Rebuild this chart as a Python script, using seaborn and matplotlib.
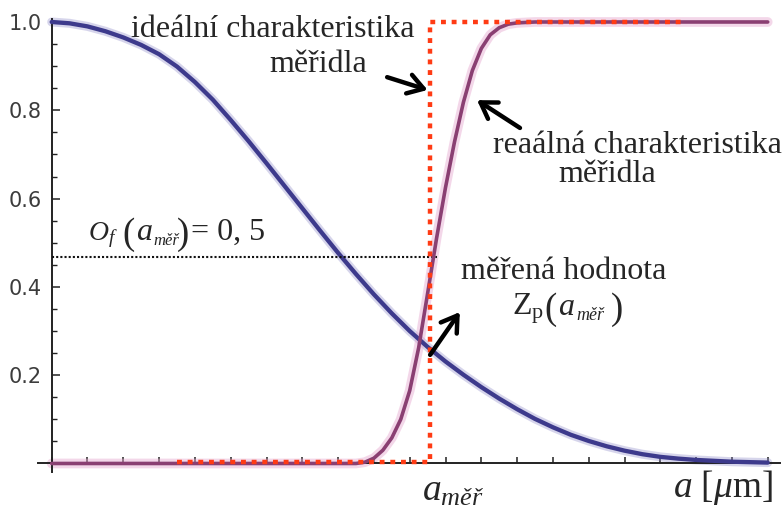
import numpy as np
import pandas as pd
import matplotlib
matplotlib.use("Agg")
import matplotlib.pyplot as plt
import seaborn as sns

# ---------------- data ----------------
# blue curve O_f(a)
a_of = [0, 0.5, 1, 1.5, 2, 2.5, 3, 3.5, 4, 4.5, 5, 5.5, 6, 6.5, 7, 7.5, 8, 8.5,
        9, 9.5, 10, 10.5, 11, 11.5, 12, 12.5, 13, 13.5, 14, 14.5, 15, 15.5,
        16, 16.5, 17, 17.5, 18, 18.5, 19, 19.5, 20]
of_vals = [1.000, 0.997, 0.990, 0.979, 0.965, 0.948, 0.927, 0.899, 0.864, 0.824,
           0.778, 0.730, 0.680, 0.629, 0.578, 0.527, 0.477, 0.429, 0.383, 0.340,
           0.300, 0.264, 0.231, 0.201, 0.173, 0.147, 0.123, 0.101, 0.082, 0.065,
           0.051, 0.039, 0.029, 0.021, 0.015, 0.011, 0.008, 0.006, 0.004, 0.003,
           0.002]
# purple curve: real gauge characteristic
a_real = [0, 2, 4, 6, 8, 8.5, 8.75, 9.0, 9.25, 9.5, 9.75, 10.0, 10.25, 10.5,
          10.75, 11.0, 11.25, 11.5, 11.75, 12.0, 12.25, 12.5, 12.75, 13.0,
          13.5, 15, 17, 20]
real_vals = [0, 0, 0, 0, 0, 0.0, 0.003, 0.012, 0.030, 0.058, 0.100, 0.165, 0.262,
             0.385, 0.510, 0.625, 0.728, 0.818, 0.890, 0.940, 0.971, 0.987, 0.995,
             0.998, 1.0, 1.0, 1.0, 1.0]
# red dotted: ideal gauge characteristic
a_ideal = [3.5, 10.57, 10.57, 17.7]
ideal_vals = [0.004, 0.004, 1.0, 1.0]
# black dotted level O_f(a_mer)
a_level = [0.0, 10.76]
level_vals = [0.468, 0.468]

ytick_vals = [0.2, 0.4, 0.6, 0.8, 1.0]
ytick_labels = ["0.2", "0.4", "0.6", "0.8", "1.0"]
xtick_vals = list(range(0, 21))

df_of = pd.DataFrame({"a": a_of, "v": of_vals})
df_real = pd.DataFrame({"a": a_real, "v": real_vals})

# ---------------- style ----------------
sns.set_style("white")
plt.rcParams["font.family"] = ["DejaVu Sans"]
plt.rcParams["mathtext.fontset"] = "custom"
plt.rcParams["mathtext.rm"] = "Liberation Serif"
plt.rcParams["mathtext.it"] = "Liberation Serif:italic"
plt.rcParams["mathtext.bf"] = "Liberation Serif:bold"

fig = plt.figure(figsize=(7.84, 5.12), dpi=100)
ax = fig.add_axes([0, 0, 1, 1])
X0, X1, Y0, Y1 = -1.444, 20.455, -0.1099, 1.0498
ax.set_xlim(X0, X1)
ax.set_ylim(Y0, Y1)


def px(x):
    """pixel column -> data x (for text placement only)"""
    return X0 + x / 784 * (X1 - X0)


def py(y):
    """pixel row -> data y (for text placement only)"""
    return Y1 - y / 512 * (Y1 - Y0)


BLUE = "#3d3a8c"
PURPLE = "#8a3f72"

# halos
ax.plot(a_of, of_vals, color="#8c88c8", lw=6.5, alpha=0.35, solid_capstyle="round", zorder=2)
ax.plot(a_real, real_vals, color="#e6a8cf", lw=7, alpha=0.45, solid_capstyle="round", zorder=2)

sns.lineplot(data=df_of, x="a", y="v", ax=ax, color=BLUE, lw=3.1, zorder=3,
             sort=False, estimator=None)
sns.lineplot(data=df_real, x="a", y="v", ax=ax, color=PURPLE, lw=2.6, zorder=4,
             sort=False, estimator=None)
ax.plot(a_ideal, ideal_vals, color="#ff3b14", lw=3.2, ls=(0, (1.1, 1.3)),
        solid_capstyle="butt", dash_capstyle="butt", zorder=5)
ax.plot(a_level, level_vals, color="#111111", lw=1.5, ls=(0, (1, 1)), zorder=3)

ax.set_xlabel("")
ax.set_ylabel("")

# spines Mathematica-like
for s in ["top", "right"]:
    ax.spines[s].set_visible(False)
ax.spines["left"].set_position(("data", 0))
ax.spines["bottom"].set_position(("data", 0))
ax.spines["left"].set_bounds(-0.02, 1.006)
ax.spines["bottom"].set_bounds(-0.38, 20.35)
for s in ["left", "bottom"]:
    ax.spines[s].set_color("#222222")
    ax.spines[s].set_linewidth(1.4)
    ax.spines[s].set_visible(True)

ax.set_yticks(ytick_vals)
ax.set_yticklabels(ytick_labels)
ax.set_yticks(np.arange(0.05, 1.0, 0.05), minor=True)
ax.set_xticks(xtick_vals)
ax.set_xticklabels([])
ax.tick_params(axis="y", which="major", direction="in", length=6, width=1.1,
               color="#222222", labelsize=15, labelcolor="#3c3c3c", pad=7, left=True)
ax.tick_params(axis="y", which="minor", direction="in", length=3.5, width=1.0,
               color="#222222", left=True)
ax.tick_params(axis="x", which="major", direction="in", length=4, width=1.1,
               color="#222222", bottom=True)
ax.grid(False)

SERIF = ["Liberation Serif", "DejaVu Serif"]
ts = 23
ps = 26.5
ax.text(6.17, 0.966, "ideální charakteristika", family=SERIF, fontsize=ts,
        ha="center", va="baseline")
ax.text(7.45, 0.887, "měřidla", family=SERIF, fontsize=ts, ha="center", va="baseline")
ax.text(16.36, 0.703, "reaálná charakteristika", family=SERIF, fontsize=ts,
        ha="center", va="baseline")
ax.text(15.53, 0.638, "měřidla", family=SERIF, fontsize=ts, ha="center", va="baseline")
ax.text(14.3, 0.418, "měřená hodnota", family=SERIF, fontsize=ts, ha="center", va="baseline")


def piece(x, y, s, size, italic=False):
    ax.text(px(x), py(y), s, family=SERIF, fontsize=size,
            fontstyle="italic" if italic else "normal", ha="left", va="baseline")


# Z_p ( a_měř )
ax.text(px(512), py(315), r"$\mathrm{Z}_\mathrm{p}$", fontsize=ts, ha="left", va="baseline")
piece(544, 319, "(", ps)
piece(558, 315, "a", ts, italic=True)
piece(576, 320, "měř", 13, italic=True)
piece(611, 319, ")", ps)

# O_f ( a_měř ) = 0, 5
ax.text(px(88), py(240), r"$O_f$", fontsize=20, ha="left", va="baseline")
piece(122, 244, "(", ps)
piece(136, 240, "a", ts, italic=True)
piece(153, 245, "měř", 12, italic=True)
piece(177, 244, ")", ps)
piece(191, 240, "= 0, 5", ts)

ax.text(10.34, -0.083, r"$a_{měř}$", fontsize=27, ha="left", va="baseline")
ax.text(20.15, -0.076, r"$a\ [\mu\mathrm{m}]$", fontsize=27, ha="right", va="baseline")

arrow_kw = dict(arrowstyle="->,head_length=0.55,head_width=0.35", lw=3.2,
                color="black", shrinkA=0, shrinkB=0, mutation_scale=20)
ax.annotate("", xy=(10.5, 0.846), xytext=(9.37, 0.875), arrowprops=arrow_kw, zorder=6)
ax.annotate("", xy=(11.88, 0.823), xytext=(13.08, 0.760), arrowprops=arrow_kw, zorder=6)
ax.annotate("", xy=(11.4, 0.343), xytext=(10.57, 0.246), arrowprops=arrow_kw, zorder=6)

fig.savefig("out.png", dpi=100)
